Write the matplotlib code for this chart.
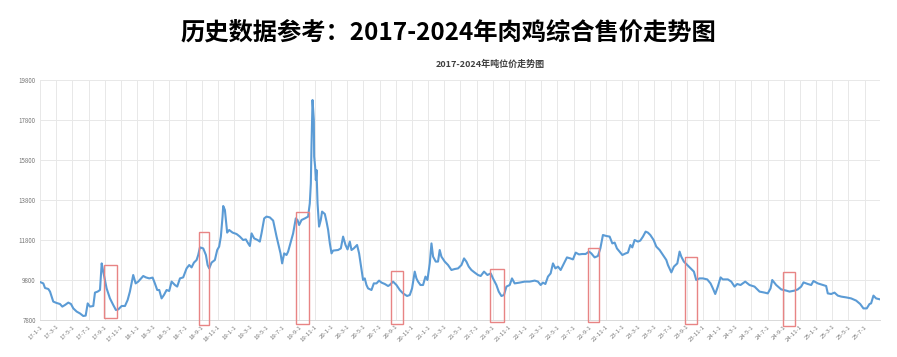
import matplotlib.pyplot as plt
from matplotlib.patches import Rectangle

plt.rcParams['font.family'] = ['Noto Sans CJK SC', 'DejaVu Sans']

# months since 2017-01-01 and price (yuan / ton)
months = [0.0, 0.41, 0.62, 1.03, 1.24, 1.64, 2.06, 2.47, 2.76, 3.09, 3.50, 3.83, 4.12, 4.54,
          4.94, 5.35, 5.65, 5.90, 6.18, 6.59, 6.80, 7.13, 7.42, 7.63, 7.82, 8.24, 8.65, 9.06,
          9.39, 9.68, 10.10, 10.51, 10.84, 11.12, 11.53, 11.83, 12.15, 12.77, 13.10, 13.51,
          13.93, 14.21, 14.50, 14.75, 15.04, 15.33, 15.66, 15.98, 16.28, 16.69, 16.97, 17.31,
          17.71, 18.13, 18.46, 18.75, 19.04, 19.37, 19.57, 19.78, 20.19, 20.52, 20.73, 20.93,
          21.22, 21.63, 21.92, 22.16, 22.37, 22.58, 22.66, 22.87, 23.08, 23.15, 23.40, 23.82,
          24.31, 24.72, 25.13, 25.46, 25.75, 25.96, 26.17, 26.49, 26.91, 27.19, 27.40, 27.73,
          28.02, 28.43, 28.84, 29.26, 29.46, 29.75, 29.95, 30.20, 30.49, 30.69, 31.03, 31.31,
          31.64, 31.85, 32.05, 32.35, 32.76, 33.16, 33.37, 33.50, 33.58, 33.71, 33.87, 33.91,
          34.03, 34.12, 34.20, 34.33, 34.52, 34.73, 34.89, 35.23, 35.44, 35.64, 35.85, 36.06,
          36.25, 36.87, 37.21, 37.49, 37.79, 38.04, 38.32, 38.53, 38.81, 39.22, 39.47, 39.77,
          39.96, 40.17, 40.38, 40.58, 41.00, 41.29, 41.62, 41.94, 42.24, 42.65, 43.05, 43.26,
          43.67, 44.09, 44.50, 44.91, 45.40, 45.74, 46.02, 46.35, 46.56, 46.76, 47.06, 47.38,
          47.68, 47.92, 48.21, 48.42, 48.62, 48.95, 49.23, 49.44, 49.65, 50.06, 50.47, 50.89,
          51.30, 51.71, 52.13, 52.45, 52.74, 53.03, 53.36, 53.77, 54.18, 54.51, 54.92, 55.34,
          55.75, 56.03, 56.45, 56.74, 57.07, 57.39, 57.69, 58.10, 58.38, 58.71, 59.33, 59.95,
          60.57, 61.19, 61.59, 61.93, 62.21, 62.51, 62.83, 63.16, 63.45, 63.75, 64.07, 64.40,
          64.81, 65.18, 65.60, 65.92, 66.26, 66.66, 67.08, 67.49, 67.90, 68.19, 68.60, 69.01,
          69.31, 69.63, 70.05, 70.46, 70.79, 71.08, 71.36, 71.69, 72.03, 72.44, 72.72, 73.02,
          73.26, 73.55, 73.96, 74.25, 74.58, 74.91, 75.19, 75.49, 75.90, 76.23, 76.64, 77.05,
          77.47, 77.67, 78.09, 78.41, 78.83, 79.11, 79.32, 79.64, 80.06, 80.47, 80.88, 81.17,
          81.58, 81.99, 82.53, 82.94, 83.23, 83.52, 83.84, 84.18, 84.46, 85.08, 85.50, 85.91,
          86.24, 86.65, 87.23, 87.76, 88.38, 89.00, 89.62, 90.02, 90.36, 90.57, 91.06, 91.68,
          92.30, 92.71, 93.33, 93.73, 94.15, 94.44, 94.97, 95.39, 95.67, 96.21, 96.82, 97.24,
          97.44, 97.86, 98.27, 98.68, 99.10, 99.72, 100.33, 100.95, 101.45, 101.85, 102.26,
          102.60, 102.80, 103.09, 103.42, 103.92]
price = [9700, 9630, 9400, 9350, 9220, 8720, 8650, 8600, 8470, 8550, 8670, 8600, 8380, 8220,
         8130, 8000, 8020, 8630, 8470, 8500, 9170, 9220, 9300, 10630, 10220, 9380, 8880, 8550,
         8300, 8330, 8500, 8500, 8800, 9220, 10050, 9630, 9720, 10000, 9930, 9880,
         9920, 9630, 9300, 9300, 8880, 9050, 9300, 9250, 9720, 9550, 9470, 9880,
         9930, 10380, 10550, 10430, 10670, 10800, 11050, 11430, 11380, 11050, 10550, 10380,
         10670, 10800, 11300, 11470, 11970, 12970, 13500, 13300, 12470, 12170, 12300, 12170,
         12100, 11970, 11800, 11830, 11630, 11500, 12130, 11880, 11800, 11720, 12130, 12880,
         12970, 12930, 12770, 11970, 11630, 11130, 10630, 11130, 11050, 11220, 11720, 12130,
         12880, 12800, 12550, 12800, 12880, 12970, 13630, 14630, 16470, 18800, 17800, 15970,
         15470, 14800, 15300, 13630, 12470, 12800, 13220, 13100, 12720, 12300, 11630, 11130,
         11270, 11300, 11380, 11970, 11550, 11330, 11720, 11300, 11380, 11550, 11130, 10300,
         9800, 9880, 9550, 9380, 9300, 9630, 9630, 9770, 9670, 9600, 9500, 9550,
         9720, 9550, 9300, 9130, 9000, 9050, 9380, 10220, 9880, 9720, 9550, 9550,
         9970, 9800, 10630, 11630, 10970, 10720, 10720, 11300, 10970, 10720, 10550, 10300,
         10350, 10380, 10550, 10880, 10720, 10470, 10300, 10170, 10050, 10000, 10220, 10050,
         10130, 9880, 9550, 9220, 9000, 9050, 9470, 9550, 9880, 9630, 9670, 9720,
         9720, 9770, 9720, 9550, 9670, 9600, 9970, 10130, 10630, 10380, 10470, 10300,
         10630, 10930, 10880, 10830, 11170, 11080, 11100, 11100, 11220, 11130, 10930, 11000,
         11380, 12050, 12000, 11970, 11630, 11670, 11380, 11220, 11050, 11130, 11170, 11550,
         11430, 11800, 11720, 11770, 11970, 12220, 12170, 12050, 11800, 11470, 11300, 11050,
         10800, 10550, 10180, 10470, 10630, 11220, 10970, 10720, 10550, 10380, 10220, 9800,
         9880, 9880, 9830, 9630, 9380, 9100, 9470, 9930, 9830, 9830, 9720, 9470,
         9600, 9550, 9720, 9550, 9470, 9220, 9170, 9130, 9380, 9800, 9550, 9330,
         9270, 9220, 9270, 9330, 9470, 9680, 9600, 9550, 9750, 9630, 9550, 9500,
         9130, 9100, 9170, 9020, 8970, 8930, 8880, 8770, 8600, 8380, 8380,
         8600, 8630, 9020, 8880, 8830]

# highlighted september windows (red boxes)
box_x0 = [7.91, 19.62, 31.64, 43.42, 55.71, 67.78, 79.73, 91.88]
box_x1 = [9.55, 20.93, 33.29, 44.91, 57.35, 69.10, 81.25, 93.36]
box_y0 = [7880, 7550, 7600, 7580, 7680, 7720, 7580, 7500]
box_y1 = [10550, 12180, 13220, 10250, 10350, 11380, 10970, 10180]

tick_months = list(range(0, 103, 2))
tick_labels = [f"{17 + m // 12}-{m % 12 + 1}-1" for m in tick_months]
y_ticks = [7800, 9800, 11800, 13800, 15800, 17800, 19800]

fig = plt.figure(figsize=(8.97, 3.57), dpi=100)
ax = fig.add_axes([40 / 897, 1 - 320 / 357, 840 / 897, 240 / 357])

ax.plot(months, price, color='#5b9bd5', linewidth=1.5, solid_joinstyle='round')

for x0, x1, y0, y1 in zip(box_x0, box_x1, box_y0, box_y1):
    ax.add_patch(Rectangle((x0, y0), x1 - x0, y1 - y0, fill=False,
                           edgecolor='#e88484', linewidth=1.0, clip_on=False, zorder=3))

ax.set_xlim(0, 103.9)
ax.set_ylim(7800, 19800)
ax.set_xticks(tick_months)
ax.set_xticklabels(tick_labels, rotation=45, ha='right', rotation_mode='anchor',
                   fontsize=4.3, color='#777777')
ax.set_yticks(y_ticks)
ax.set_yticklabels([str(v) for v in y_ticks], fontsize=4.5, color='#777777')
ax.tick_params(length=0, pad=3)
ax.grid(True, color='#e8e8e8', linewidth=0.7)
ax.set_axisbelow(True)
for side in ['top', 'right', 'left']:
    ax.spines[side].set_visible(False)
ax.spines['bottom'].set_color('#d9d9d9')
ax.spines['bottom'].set_linewidth(0.7)

fig.text(0.5, 1 - 33 / 357, '历史数据参考：2017-2024年肉鸡综合售价走势图',
         ha='center', va='center', fontsize=17.5, fontweight='bold', color='black')
fig.text(490 / 897, 1 - 64 / 357, '2017-2024年吨位价走势图',
         ha='center', va='center', fontsize=6.5, fontweight='bold', color='#404040')

fig.savefig('out.png', dpi=100)
